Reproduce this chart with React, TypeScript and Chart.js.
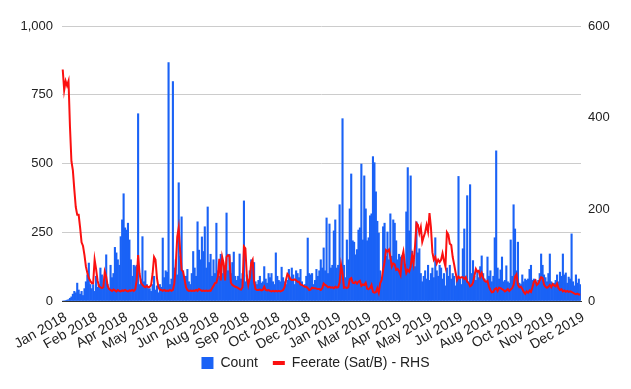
import React, { useEffect, useRef } from 'react';
import { Chart, registerables } from 'chart.js';

Chart.register(...registerables);

// X-axis tick labels, placed every LABEL_STEP categories
const tickLabels = [
  'Jan 2018', 'Feb 2018', 'Apr 2018', 'May 2018', 'Jun 2018', 'Aug 2018',
  'Sep 2018', 'Oct 2018', 'Dec 2018', 'Jan 2019', 'Mar 2019', 'Apr 2019',
  'May 2019', 'Jul 2019', 'Aug 2019', 'Oct 2019', 'Nov 2019', 'Dec 2019',
];
const LABEL_STEP = 21;

// Count (left axis), roughly one value per two days, Jan 2018 - Dec 2019
const countValues = [
  0, 0, 2, 3, 5, 10, 15, 25, 35, 30,
  65, 40, 25, 35, 20, 45, 70, 95, 138, 60,
  45, 60, 35, 90, 50, 60, 120, 95, 55, 90,
  168, 60, 45, 130, 85, 100, 195, 175, 150, 130,
  234, 295, 390, 266, 258, 283, 222, 150, 90, 130,
  125, 130, 681, 60, 80, 234, 70, 110, 60, 45,
  45, 35, 60, 90, 40, 55, 30, 60, 50, 229,
  85, 110, 105, 867, 60, 80, 798, 120, 150, 95,
  430, 163, 306, 110, 85, 90, 115, 70, 60, 100,
  180, 120, 90, 288, 185, 150, 233, 180, 270, 120,
  342, 140, 170, 90, 150, 100, 283, 110, 90, 170,
  100, 130, 80, 320, 110, 170, 100, 140, 178, 90,
  75, 90, 171, 80, 100, 364, 70, 95, 60, 110,
  150, 130, 140, 70, 60, 75, 90, 65, 70, 125,
  80, 65, 100, 85, 100, 70, 60, 175, 90, 75,
  70, 123, 85, 70, 60, 75, 115, 80, 120, 95,
  60, 110, 100, 85, 115, 70, 55, 60, 90, 229,
  100, 95, 100, 60, 75, 115, 90, 110, 150, 120,
  193, 110, 302, 100, 280, 120, 130, 255, 295, 120,
  130, 350, 110, 663, 130, 85, 222, 150, 335, 462,
  219, 214, 168, 187, 258, 266, 498, 222, 455, 335,
  219, 230, 310, 317, 525, 503, 397, 290, 247, 110,
  75, 270, 283, 163, 251, 150, 317, 163, 295, 283,
  219, 150, 170, 160, 165, 170, 130, 324, 485, 255,
  455, 181, 150, 125, 288, 175, 190, 100, 70, 90,
  110, 80, 130, 75, 100, 120, 85, 230, 110, 90,
  130, 120, 80, 100, 55, 120, 90, 130, 80, 100,
  90, 55, 85, 453, 80, 60, 190, 262, 80, 383,
  70, 423, 100, 147, 90, 75, 110, 85, 125, 164,
  100, 80, 70, 160, 90, 110, 70, 90, 230, 546,
  120, 80, 113, 160, 70, 75, 128, 70, 65, 222,
  90, 350, 262, 110, 214, 65, 60, 95, 70, 80,
  75, 80, 115, 130, 75, 80, 78, 60, 75, 100,
  171, 130, 95, 85, 70, 100, 171, 70, 60, 65,
  75, 95, 70, 105, 90, 171, 95, 102, 65, 87,
  80, 244, 70, 55, 95, 65, 80, 60,
];

// Feerate in Sat/B (right axis)
const feerateValues = [
  505, 460, 480, 470, 480, 380, 305, 285, 243, 205,
  188, 188, 160, 128, 120, 100, 75, 61, 50, 44,
  39, 39, 90, 70, 45, 32, 30, 28, 30, 64,
  53, 33, 26, 24, 22, 25, 23, 21, 24, 22,
  21, 23, 22, 24, 22, 21, 23, 22, 24, 22,
  25, 45, 100, 60, 40, 35, 32, 30, 33, 30,
  31, 35, 60, 96, 90, 50, 30, 25, 24, 22,
  24, 22, 23, 22, 24, 22, 24, 39, 80, 140,
  160, 110, 68, 64, 48, 30, 24, 22, 23, 22,
  23, 22, 24, 22, 26, 24, 22, 23, 22, 23,
  22, 23, 22, 28, 33, 39, 40, 53, 92, 45,
  96, 82, 45, 96, 100, 98, 40, 35, 33, 31,
  30, 28, 26, 25, 30, 119, 115, 53, 35, 50,
  83, 90, 42, 26, 24, 24, 25, 23, 24, 31,
  24, 23, 24, 22, 21, 22, 21, 22, 21, 22,
  21, 22, 24, 30, 46, 59, 55, 48, 46, 46,
  47, 45, 42, 42, 36, 35, 33, 31, 31, 28,
  24, 25, 29, 28, 28, 27, 26, 26, 24, 28,
  38, 35, 33, 30, 31, 29, 30, 28, 31, 29,
  30, 40, 79, 60, 29, 30, 28, 30, 48, 50,
  40, 39, 42, 38, 42, 44, 33, 36, 35, 40,
  27, 26, 28, 35, 20, 18, 19, 28, 18, 39,
  46, 68, 85, 111, 108, 112, 96, 75, 82, 80,
  68, 70, 65, 57, 94, 108, 79, 61, 68, 64,
  75, 100, 82, 119, 170, 166, 148, 161, 129, 140,
  150, 166, 151, 192, 160, 106, 90, 96, 82, 90,
  85, 90, 104, 88, 75, 150, 145, 125, 122, 96,
  80, 62, 46, 53, 50, 52, 52, 48, 52, 42,
  39, 32, 34, 40, 55, 70, 64, 66, 53, 61,
  50, 44, 42, 44, 31, 24, 19, 20, 26, 28,
  22, 29, 28, 26, 24, 21, 23, 26, 22, 25,
  28, 35, 53, 58, 35, 30, 31, 26, 20, 16,
  21, 18, 23, 20, 30, 42, 45, 35, 38, 45,
  52, 50, 36, 31, 29, 31, 35, 30, 37, 34,
  32, 38, 28, 24, 26, 21, 23, 20, 22, 20,
  21, 20, 18, 16, 15, 16, 14, 14,
];

const categories = countValues.map((_, i) =>
  i % LABEL_STEP === 0 ? tickLabels[i / LABEL_STEP] : ''
);

const BLUE = '#1a62f6';
const RED = '#fb1010';
const TEXT = '#222222';
const FAMILY = "'Liberation Sans', Arial, sans-serif";

// Pull the legend up a little, closer to the rotated x labels
const legendShift = {
  id: 'legendShift',
  afterLayout(chart: any) {
    if (chart.legend) {
      chart.legend.top -= 7;
      chart.legend.bottom -= 7;
    }
  },
};

export default function App() {
  const ref = useRef<HTMLCanvasElement>(null);

  useEffect(() => {
    const chart = new Chart(ref.current as HTMLCanvasElement, {
      type: 'bar',
      data: {
        labels: categories,
        datasets: [
          {
            type: 'bar',
            label: 'Count',
            data: countValues,
            backgroundColor: BLUE,
            borderWidth: 0,
            barPercentage: 1,
            categoryPercentage: 1,
            yAxisID: 'y',
            order: 2,
          } as any,
          {
            type: 'line',
            label: 'Feerate (Sat/B) - RHS',
            data: feerateValues,
            borderColor: RED,
            backgroundColor: RED,
            borderWidth: 2,
            pointRadius: 0,
            tension: 0,
            yAxisID: 'y1',
            order: 1,
          } as any,
        ],
      },
      plugins: [legendShift],
      options: {
        animation: false,
        responsive: true,
        maintainAspectRatio: false,
        layout: { padding: { top: 26, bottom: 2, left: 0, right: 0 } },
        plugins: {
          tooltip: { enabled: false },
          legend: {
            position: 'bottom',
            labels: {
              usePointStyle: true,
              pointStyleWidth: 12,
              boxHeight: 12,
              boxWidth: 12,
              padding: 15,
              color: TEXT,
              font: { family: FAMILY, size: 14 },
              generateLabels: (c: any) => {
                const items = (Chart.defaults.plugins.legend.labels as any).generateLabels(c);
                items.sort((a: any, b: any) => a.datasetIndex - b.datasetIndex);
                items.forEach((it: any) => {
                  if (it.datasetIndex === 0) {
                    it.pointStyle = 'rect';
                    it.lineWidth = 0;
                  } else {
                    it.pointStyle = 'line';
                    it.lineWidth = 4;
                  }
                });
                return items;
              },
            },
          },
        },
        scales: {
          x: {
            type: 'category',
            grid: { display: false, drawTicks: false },
            border: { display: true, color: '#333333', width: 1 },
            ticks: {
              autoSkip: false,
              minRotation: 30,
              maxRotation: 30,
              padding: 8,
              labelOffset: 3,
              color: TEXT,
              font: { family: FAMILY, size: 14 },
            },
            afterFit: (s: any) => {
              s.height = 47;
            },
          },
          y: {
            position: 'left',
            min: 0,
            max: 1000,
            ticks: { stepSize: 250, color: TEXT, font: { family: FAMILY, size: 13 }, padding: 9 },
            grid: { color: '#cccccc', drawTicks: false },
            border: { display: false },
            afterFit: (s: any) => {
              s.width = 62;
            },
          },
          y1: {
            position: 'right',
            min: 0,
            max: 600,
            ticks: { stepSize: 200, color: TEXT, font: { family: FAMILY, size: 13 }, padding: 7 },
            grid: { display: false, drawTicks: false },
            border: { display: false },
            afterFit: (s: any) => {
              s.width = 50;
            },
          },
        },
      } as any,
    });
    return () => chart.destroy();
  }, []);

  return (
    <div
      style={{
        position: 'fixed',
        left: 0,
        top: 0,
        width: 631,
        height: 389,
        background: '#ffffff',
      }}
    >
      <canvas ref={ref} />
    </div>
  );
}
